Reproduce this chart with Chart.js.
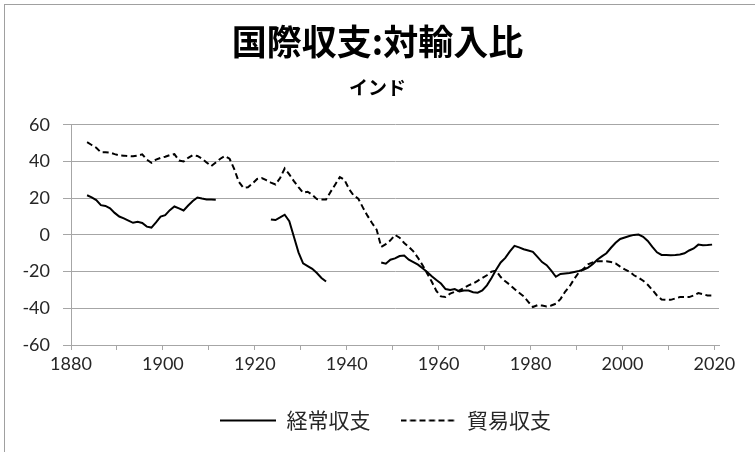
<!DOCTYPE html>
<html>
<head>
<meta charset="utf-8">
<script src="https://cdn.jsdelivr.net/npm/chart.js@4.4.0/dist/chart.umd.min.js"></script>
<style>
    body { margin: 0; background: #fff; }
    #wrap { width: 755px; height: 452px; }
</style>
</head>
<body>
<div id="wrap"><canvas id="balanceChart" width="755" height="452"></canvas></div>
<script>
// Balance of payments vs imports, India (%)
const years = [
    1883, 1884, 1885, 1886, 1887, 1888, 1889,
    1890, 1891, 1892, 1893, 1894, 1895, 1896, 1897, 1898, 1899,
    1900, 1901, 1902, 1903, 1904, 1905, 1906, 1907, 1908, 1909,
    1910, 1911, 1912, 1913, 1914, 1915, 1916, 1917, 1918, 1919,
    1920, 1921, 1922, 1923, 1924, 1925, 1926, 1927, 1928, 1929,
    1930, 1931, 1932, 1933, 1934, 1935, 1936, 1937, 1938, 1939,
    1940, 1941, 1942, 1943, 1944, 1945, 1946, 1947, 1948, 1949,
    1950, 1951, 1952, 1953, 1954, 1955, 1956, 1957, 1958, 1959,
    1960, 1961, 1962, 1963, 1964, 1965, 1966, 1967, 1968, 1969,
    1970, 1971, 1972, 1973, 1974, 1975, 1976, 1977, 1978, 1979,
    1980, 1981, 1982, 1983, 1984, 1985, 1986, 1987, 1988, 1989,
    1990, 1991, 1992, 1993, 1994, 1995, 1996, 1997, 1998, 1999,
    2000, 2001, 2002, 2003, 2004, 2005, 2006, 2007, 2008, 2009,
    2010, 2011, 2012, 2013, 2014, 2015, 2016, 2017, 2018, 2019
];

// 経常収支 (current account)
const currentAccount = [
    21.6, 20.5, 19, 16.2, 15.8, 14.5, 12,
    10, 9, 7.8, 6.6, 7.2, 6.5, 4.5, 4, 6.8, 10,
    10.8, 13.5, 15.5, 14.5, 13.3, 16, 18.5, 20.4, 19.8, 19.3,
    19.3, 19.2, null, null, null, null, null, null, null, null,
    null, null, null, 8.4, 8.1, 9.5, 11, 7.5, -1, -9.5,
    -15.5, -17, -18.5, -20.8, -23.5, -25.4, null, null, null, null,
    null, null, null, null, null, null, null, -15, -15.7, -13.5,
    -12.8, -11.5, -11.2, -13.5, -14.8, -16.2, -18.2, -20.2, -22.5, -24.6,
    -26.5, -29.5, -30, -29.5, -30.8, -30.3, -30.3, -31.2, -31.5, -30.3,
    -27.5, -23.5, -19, -15, -12.5, -9, -6, -6.8, -7.8, -8.5,
    -9.2, -12, -14.8, -16.5, -19.5, -22.8, -21.3, -21, -20.8, -20.2,
    -19.7, -19, -17.8, -16, -13.5, -11.7, -10, -7, -4.3, -2.2,
    -1.4, -0.6, 0, 0.2, -1, -3.3, -6.5, -9.5, -10.9, -11,
    -11.1, -11, -10.7, -10, -8.5, -7.4, -5.3, -5.6, -5.5, -5.3
];

// 貿易収支 (trade balance)
const tradeBalance = [
    50.5, 49, 47.5, 45, 45, 44.8, 44,
    43.3, 43.2, 43, 42.8, 43.2, 43.9, 41, 39.3, 41, 42,
    42.6, 43.5, 44, 40.5, 40, 42, 43.5, 43, 41.5, 39.5,
    37.5, 39.5, 41.5, 43, 41.5, 36, 29, 25.7, 26, 28,
    30.5, 31, 29.8, 28.5, 27.5, 31, 36.2, 33, 29.3, 26,
    23, 23.5, 21.8, 19.5, 19.3, 19.3, 23.5, 27.5, 31.5, 30,
    25, 21.5, 19.8, 15, 10.5, 6.5, 2.9, -6.5, -5, -3,
    0, -1.5, -4.4, -6.5, -9, -12.5, -16.5, -21, -25.5, -30.5,
    -33.5, -33.8, -32, -31, -30.3, -29, -27.5, -26.5, -25, -23.5,
    -22, -20, -19.5, -23, -25.3, -27.2, -29.5, -31.5, -33.5, -36.5,
    -39.3, -38.3, -38.5, -39, -38.5, -37.5, -35, -31, -28, -24,
    -20.5, -18.5, -16, -15, -14.4, -14.4, -14.4, -14.8, -15.5, -17.3,
    -18.8, -20, -22, -23.3, -25, -27.2, -30, -33, -35.2, -35.4,
    -35.4, -34.6, -33.9, -33.9, -33.9, -33, -31.7, -32.3, -33, -33
];

const yTicks = [-60, -40, -20, 0, 20, 40, 60];
const xLabelYears = [1880, 1900, 1920, 1940, 1960, 1980, 2000, 2020];

const gridColor = '#a6a6a6';
const textColor = '#262626';
const tradeDash = [6, 3.5];

// each year is a category: the point sits in the middle of its year
function toPoints(values) {
    return years.map((yr, i) => ({ x: yr + 0.5, y: values[i] }));
}

// small canvases used as legend symbols (line samples)
function lineSymbol(dash) {
    const c = document.createElement('canvas');
    c.width = 56;
    c.height = 4;
    const g = c.getContext('2d');
    g.strokeStyle = '#000';
    g.lineWidth = 2;
    g.setLineDash(dash);
    g.beginPath();
    g.moveTo(0, 2);
    g.lineTo(56, 2);
    g.stroke();
    return c;
}
const legendSymbols = [lineSymbol([]), lineSymbol(tradeDash)];

const framePlugin = {
    id: 'frame',
    beforeDraw(chart) {
        const ctx = chart.ctx;
        ctx.save();
        ctx.fillStyle = '#fff';
        ctx.fillRect(0, 0, chart.width, chart.height);
        ctx.strokeStyle = '#a0a0a0';
        ctx.lineWidth = 1;
        ctx.strokeRect(4.5, 4.5, chart.width + 10, chart.height + 10);
        ctx.restore();
    },
    afterLayout(chart) {
        // legend sits a little right of centre in the original
        chart.legend.left += 8;
        chart.legend.right += 8;
    }
};

Chart.defaults.font.family = 'Lato, "Noto Sans CJK JP", sans-serif';
Chart.defaults.color = textColor;

new Chart(document.getElementById('balanceChart').getContext('2d'), {
    type: 'line',
    data: {
        datasets: [
            {
                label: '経常収支',
                data: toPoints(currentAccount),
                borderColor: '#000',
                backgroundColor: '#000',
                borderWidth: 2,
                pointRadius: 0,
                tension: 0,
                spanGaps: false
            },
            {
                label: '貿易収支',
                data: toPoints(tradeBalance),
                borderColor: '#000',
                backgroundColor: '#000',
                borderWidth: 2,
                borderDash: tradeDash,
                pointRadius: 0,
                tension: 0,
                spanGaps: false
            }
        ]
    },
    options: {
        responsive: false,
        animation: false,
        layout: {
            padding: { top: 5, left: 5, right: 5, bottom: 11 }
        },
        plugins: {
            title: {
                display: true,
                text: '国際収支:対輸入比',
                color: '#000',
                font: { family: '"Noto Sans CJK JP", sans-serif', size: 35, weight: 'bold' },
                padding: { top: 16, bottom: 0 }
            },
            subtitle: {
                display: true,
                text: 'インド',
                color: '#000',
                font: { family: '"Noto Sans CJK JP", sans-serif', size: 19, weight: 'bold' },
                padding: { top: 13, bottom: 26 }
            },
            legend: {
                position: 'bottom',
                labels: {
                    usePointStyle: true,
                    pointStyleWidth: 56,
                    boxHeight: 21,
                    padding: 30,
                    color: textColor,
                    font: { family: '"Noto Sans CJK JP", sans-serif', size: 21 },
                    generateLabels(chart) {
                        const items = Chart.defaults.plugins.legend.labels.generateLabels(chart);
                        items.forEach((item, i) => { item.pointStyle = legendSymbols[i]; });
                        return items;
                    }
                }
            },
            tooltip: { enabled: false }
        },
        scales: {
            x: {
                type: 'linear',
                min: 1880,
                max: 2021,
                grid: {
                    drawOnChartArea: false,
                    drawTicks: true,
                    tickLength: 5,
                    color: gridColor
                },
                border: { display: true, color: gridColor },
                ticks: {
                    stepSize: 10,
                    includeBounds: false,
                    autoSkip: false,
                    maxRotation: 0,
                    padding: 3,
                    font: { size: 18 },
                    callback: v => xLabelYears.includes(v) ? String(v) : ''
                },
                afterFit: s => { s.height = 35; }
            },
            y: {
                min: yTicks[0],
                max: yTicks[yTicks.length - 1],
                afterBuildTicks: s => { s.ticks = yTicks.map(v => ({ value: v })); },
                grid: {
                    color: gridColor,
                    drawTicks: true,
                    tickLength: 8
                },
                border: { display: true, color: gridColor },
                ticks: {
                    padding: 13,
                    font: { size: 18 }
                },
                afterFit: s => { s.width = 66; }
            },
            spacer: {
                position: 'right',
                display: true,
                grid: { display: false },
                border: { display: false },
                ticks: { display: false },
                afterFit: s => { s.width = 31; }
            }
        }
    },
    plugins: [framePlugin]
});
</script>
</body>
</html>
